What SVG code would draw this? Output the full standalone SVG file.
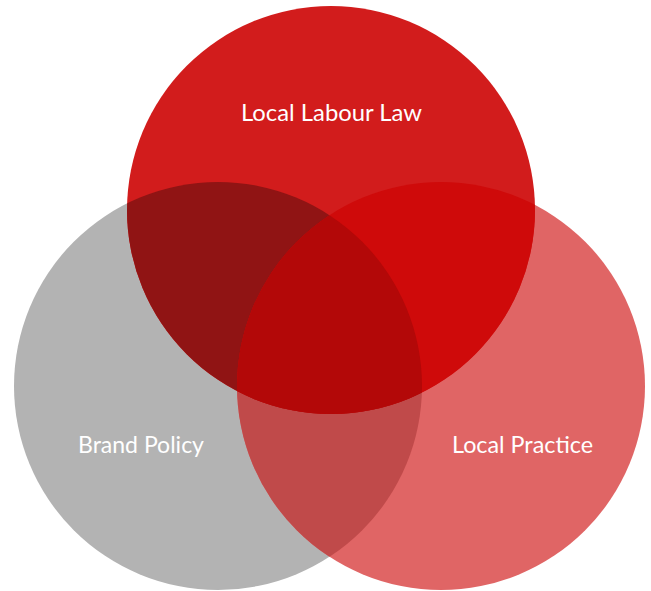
<svg xmlns="http://www.w3.org/2000/svg" width="651" height="591" viewBox="0 0 651 591">
  <style>
    .lbl { font-family: Lato, "Open Sans", "DejaVu Sans", sans-serif; font-size: 23px; fill: #ffffff; }
  </style>
  <defs>
    <clipPath id="cTop"><circle cx="331" cy="210" r="204"/></clipPath>
    <clipPath id="cLeft"><circle cx="218" cy="386" r="204"/></clipPath>
    <clipPath id="cRight"><circle cx="441" cy="386" r="204"/></clipPath>
  </defs>
  <rect width="651" height="591" fill="#ffffff"/>
  <g id="brand-policy">
    <circle cx="218" cy="386" r="204" fill="#b3b3b3"/>
  </g>
  <g id="local-practice">
    <circle cx="441" cy="386" r="204" fill="#e06565"/>
  </g>
  <g id="local-labour-law">
    <circle cx="331" cy="210" r="204" fill="#d21c1c"/>
  </g>
  <g id="overlaps">
    <g clip-path="url(#cLeft)"><circle cx="441" cy="386" r="204" fill="#c04a4a"/></g>
    <g clip-path="url(#cLeft)"><circle cx="331" cy="210" r="204" fill="#901414"/></g>
    <g clip-path="url(#cRight)"><circle cx="331" cy="210" r="204" fill="#cf0a0a"/></g>
    <g clip-path="url(#cRight)"><g clip-path="url(#cLeft)"><circle cx="331" cy="210" r="204" fill="#b30808"/></g></g>
  </g>
  <g id="labels">
    <text class="lbl" x="241" y="121" textLength="181" lengthAdjust="spacingAndGlyphs">Local Labour Law</text>
    <text class="lbl" x="78" y="453" textLength="126" lengthAdjust="spacingAndGlyphs">Brand Policy</text>
    <text class="lbl" x="452" y="453" textLength="141" lengthAdjust="spacingAndGlyphs">Local Practice</text>
  </g>
</svg>
